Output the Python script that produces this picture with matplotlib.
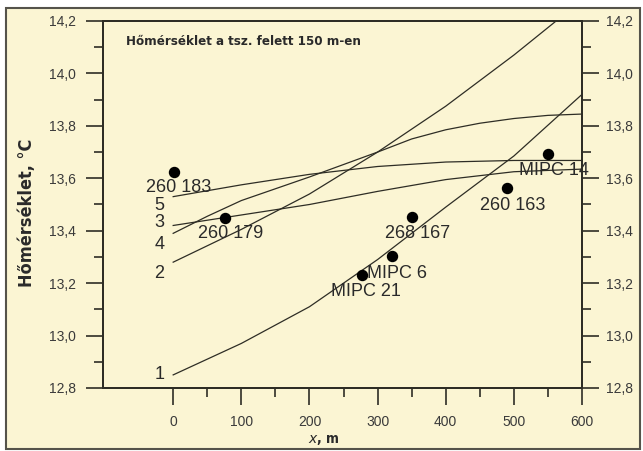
import matplotlib.pyplot as plt
from matplotlib.patches import Rectangle
from matplotlib.ticker import FixedLocator

# distance along the profile, m
x_curve = [0, 100, 200, 300, 400, 500, 600]
curve_1 = [12.85, 12.97, 13.11, 13.29, 13.49, 13.685, 13.92]
x_curve_2 = [0, 100, 200, 300, 400, 500, 562]
curve_2 = [13.28, 13.405, 13.54, 13.70, 13.875, 14.07, 14.2]
curve_3 = [13.42, 13.46, 13.50, 13.55, 13.595, 13.625, 13.635]
x_curve_4 = [0, 50, 100, 200, 300, 350, 400, 450, 500, 550, 600]
curve_4 = [13.39, 13.455, 13.515, 13.605, 13.70, 13.75, 13.785, 13.81, 13.828, 13.84, 13.845]
curve_5 = [13.53, 13.575, 13.615, 13.645, 13.662, 13.668, 13.668]

# measured wells
well_names = ["260 183", "260 179", "268 167", "MIPC 6", "MIPC 21", "260 163", "MIPC 14"]
well_x = [1.5, 76, 351, 321, 277, 490, 550]
well_t = [13.625, 13.45, 13.451, 13.305, 13.231, 13.562, 13.692]

# where the well names and curve numbers are written
well_label_pos = [(8, 13.563), (84, 13.388), (358, 13.391), (329, 13.235),
                  (283, 13.167), (499, 13.498), (559, 13.628)]
curve_label_pos = {"1": (-20, 12.85), "2": (-20, 13.238), "3": (-20, 13.431),
                   "4": (-20, 13.349), "5": (-20, 13.498)}

bg = "#fbf5d3"
ink = "#2e2d25"
narrow = ["Liberation Sans Narrow", "DejaVu Sans"]
plt.rcParams["font.family"] = ["Liberation Sans", "DejaVu Sans"]

fig = plt.figure(figsize=(6.43, 4.51), dpi=100, facecolor="white")
fig.patches.append(Rectangle((6 / 643, 1 - 449 / 451), 634 / 643, 441 / 451,
                             transform=fig.transFigure, facecolor=bg,
                             edgecolor="#55534a", lw=1.5, zorder=-5))

ax = fig.add_axes([103 / 643, 1 - 388 / 451, 479 / 643, 367 / 451])
ax.set_facecolor(bg)
ax.set_xlim(-103, 600)
ax.set_ylim(12.8, 14.2)

for ys, xs in [(curve_1, x_curve), (curve_2, x_curve_2), (curve_3, x_curve),
               (curve_4, x_curve_4), (curve_5, x_curve)]:
    ax.plot(xs, ys, color=ink, lw=0.9, clip_on=True)

ax.plot(well_x, well_t, "o", color="black", ms=7.2)

for name, (lx, ly) in zip(well_names, well_label_pos):
    ax.text(lx, ly, name, fontsize=13, color="#2a2a2a", ha="center", va="center")
for num, (lx, ly) in curve_label_pos.items():
    ax.text(lx, ly, num, fontsize=13, color="#2a2a2a", ha="center", va="center")

ax.text(0.048, 0.943, "Hőmérséklet a tsz. felett 150 m-en", transform=ax.transAxes,
        family=narrow, fontstretch="condensed", fontweight="bold", fontsize=9.5,
        color="#2a2a2a", ha="left", va="center")

# ticks
yticks = [12.8, 13.0, 13.2, 13.4, 13.6, 13.8, 14.0, 14.2]
ylabels = ["12,8", "13,0", "13,2", "13,4", "13,6", "13,8", "14,0", "14,2"]
ax.set_xticks([0, 100, 200, 300, 400, 500, 600])
ax.xaxis.set_minor_locator(FixedLocator([50, 150, 250, 350, 450, 550]))
ax.set_yticks(yticks, ylabels)
ax.yaxis.set_minor_locator(FixedLocator([12.9, 13.1, 13.3, 13.5, 13.7, 13.9, 14.1]))

ax_r = ax.twinx()
ax_r.set_ylim(12.8, 14.2)
ax_r.set_yticks(yticks, ylabels)
ax_r.yaxis.set_minor_locator(FixedLocator([12.9, 13.1, 13.3, 13.5, 13.7, 13.9, 14.1]))

for a in (ax, ax_r):
    for sp in a.spines.values():
        sp.set_linewidth(1.4)
        sp.set_color(ink)
    a.tick_params(which="major", length=12.5, width=1.2, color=ink,
                  labelsize=10, labelcolor="#3a3a3a")
    a.tick_params(which="minor", length=6.5, width=1.2, color=ink)
ax.tick_params(axis="y", pad=7)
ax.tick_params(axis="x", pad=7)
ax_r.tick_params(axis="y", pad=5)

fig.text(27 / 643, 1 - 213 / 451, "Hőmérséklet, °C", rotation=90, family=narrow,
         fontstretch="condensed", fontweight="bold", fontsize=13, color="#2a2a2a",
         ha="center", va="center")
fig.text(324 / 643, 1 - 440 / 451, "$\\mathit{x}$, m", family=narrow,
         fontstretch="condensed", fontweight="bold", fontsize=10, color="#2a2a2a",
         ha="center", va="center")

fig.savefig("out.png", dpi=100, facecolor="white")
